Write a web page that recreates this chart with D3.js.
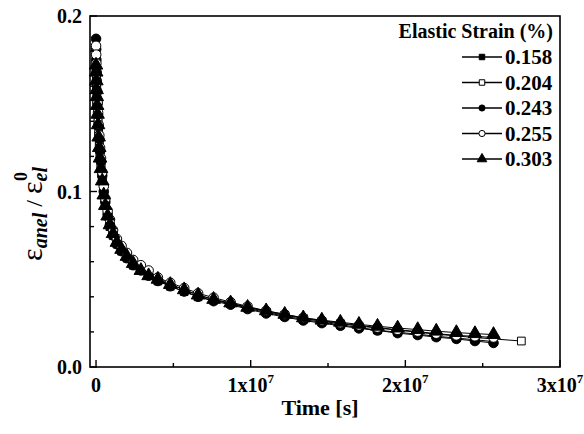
<!DOCTYPE html>
<html><head><meta charset="utf-8">
<script src="https://cdn.jsdelivr.net/npm/d3@7"></script>
<style>body{margin:0;background:#fff}svg{display:block}text{font-family:"Liberation Serif","Times New Roman",serif;font-weight:bold;fill:#000}</style>
</head><body>
<script>
const times = [0,1e4,2e4,3.5e4,5e4,7e4,1e5,1.3e5,1.7e5,2.1e5,2.6e5,3.2e5,4e5,5e5,6e5,7.5e5,9e5,1.1e6,1.35e6,1.65e6,2e6,2.4e6,2.9e6,3.4e6,4e6,4.8e6,5.7e6,6.6e6,7.6e6,8.7e6,9.8e6,1.1e7,1.22e7,1.34e7,1.46e7,1.58e7,1.7e7,1.82e7,1.95e7,2.08e7,2.2e7,2.33e7,2.45e7,2.57e7];
const times204 = times.concat([2.75e7]);
const s158 = [0.176,0.171,0.166,0.160,0.156,0.150,0.145,0.139,0.132,0.126,0.120,0.114,0.106,0.098,0.092,0.086,0.080,0.075,0.070,0.066,0.062,0.058,0.055,0.052,0.049,0.046,0.043,0.040,0.038,0.036,0.0335,0.031,0.029,0.027,0.0255,0.024,0.0225,0.021,0.0198,0.0187,0.0175,0.0165,0.0155,0.0145];
const s204 = [0.178,0.173,0.168,0.162,0.158,0.152,0.147,0.141,0.134,0.128,0.121,0.115,0.107,0.099,0.093,0.087,0.081,0.076,0.071,0.067,0.063,0.059,0.056,0.053,0.050,0.047,0.044,0.041,0.0385,0.0362,0.034,0.0315,0.0295,0.0277,0.026,0.0247,0.0233,0.0222,0.021,0.0198,0.0187,0.0177,0.0168,0.016,0.0148];
const s243 = [0.187,0.181,0.175,0.168,0.163,0.157,0.150,0.144,0.137,0.130,0.123,0.117,0.109,0.100,0.094,0.087,0.081,0.075,0.070,0.066,0.062,0.058,0.055,0.052,0.049,0.046,0.043,0.040,0.0375,0.0355,0.033,0.0305,0.0285,0.0265,0.025,0.0235,0.022,0.0208,0.0193,0.0182,0.017,0.016,0.0148,0.0137];
const s255 = [0.183,0.178,0.173,0.167,0.162,0.157,0.151,0.145,0.138,0.132,0.125,0.119,0.111,0.103,0.096,0.089,0.084,0.078,0.073,0.069,0.065,0.061,0.058,0.055,0.051,0.048,0.045,0.042,0.0395,0.037,0.0345,0.032,0.030,0.028,0.0265,0.025,0.0237,0.0225,0.0212,0.0202,0.019,0.018,0.0175,0.0168];
const s303 = [0.172,0.168,0.163,0.158,0.154,0.149,0.144,0.138,0.131,0.125,0.119,0.113,0.106,0.098,0.092,0.086,0.081,0.076,0.071,0.067,0.063,0.059,0.055,0.052,0.050,0.047,0.044,0.041,0.0385,0.0365,0.034,0.032,0.030,0.028,0.0267,0.0255,0.0243,0.0232,0.0222,0.0213,0.0204,0.0196,0.019,0.0185];
const seriesNames = ["0.158","0.204","0.243","0.255","0.303"];
const seriesShapes = ["square","square","circle","circle","triangle"];
const seriesFilled = [true,false,true,false,true];
const seriesData = [[times,s158],[times204,s204],[times,s243],[times,s255],[times,s303]];
const xTickMajor = [0,1e7,2e7,3e7];
const xTickLabels = ["0","1x10","2x10","3x10"];
const xTickMinor = [0.5e7,1.5e7,2.5e7];
const yTickMajor = [0,0.1,0.2];
const yTickLabels = ["0.0","0.1","0.2"];
const yTickMinor = [0.02,0.04,0.06,0.08,0.12,0.14,0.16,0.18];
const legendTitle = "Elastic Strain (%)";

const W=584,H=434;
const L=90,R=560,T=16,B=367;
const svg=d3.select("body").append("svg").attr("width",W).attr("height",H);
const x=d3.scaleLinear().domain([-0.039e7,3e7]).range([L,R]);
const y=d3.scaleLinear().domain([0,0.2]).range([B,T]);

const symType={square:d3.symbolSquare,circle:d3.symbolCircle,triangle:d3.symbolTriangle};
const symSize={square:60,circle:72,triangle:80};

const plot=svg.append("g");
const line=d3.line().x(d=>x(d[0])).y(d=>y(d[1]));
seriesData.forEach((sd,i)=>{
  const pts=sd[0].map((t,j)=>[t,sd[1][j]]);
  plot.append("path").datum(pts).attr("d",line).attr("fill","none").attr("stroke","#000").attr("stroke-width",1);
});
seriesData.forEach((sd,i)=>{
  const pts=sd[0].map((t,j)=>[t,sd[1][j]]);
  const sh=seriesShapes[i];
  plot.selectAll(null).data(pts).enter().append("path")
    .attr("transform",d=>`translate(${x(d[0])},${y(d[1])})`)
    .attr("d",d3.symbol().type(symType[sh]).size(symSize[sh]))
    .attr("fill",seriesFilled[i]?"#000":"#fff").attr("stroke","#000").attr("stroke-width",1);
});

// frame
svg.append("rect").attr("x",L).attr("y",T).attr("width",R-L).attr("height",B-T).attr("fill","none").attr("stroke","#000").attr("stroke-width",1.6);

// x ticks
const xa=svg.append("g");
xTickMajor.forEach(v=>xa.append("line").attr("x1",x(v)).attr("x2",x(v)).attr("y1",B).attr("y2",B-7).attr("stroke","#000").attr("stroke-width",1.4));
xTickMinor.forEach(v=>xa.append("line").attr("x1",x(v)).attr("x2",x(v)).attr("y1",B).attr("y2",B-4).attr("stroke","#000").attr("stroke-width",1.4));
xTickMajor.forEach((v,i)=>{
  const t=xa.append("text").attr("x",x(v)).attr("y",392).attr("text-anchor","middle").attr("font-size",20);
  t.append("tspan").text(xTickLabels[i]);
  if(i>0) t.append("tspan").attr("font-size",13).attr("dy",-9).text("7");
});
// y ticks
const ya=svg.append("g");
yTickMajor.forEach(v=>ya.append("line").attr("x1",L).attr("x2",L+7).attr("y1",y(v)).attr("y2",y(v)).attr("stroke","#000").attr("stroke-width",1.4));
yTickMinor.forEach(v=>ya.append("line").attr("x1",L).attr("x2",L+4).attr("y1",y(v)).attr("y2",y(v)).attr("stroke","#000").attr("stroke-width",1.4));
yTickMajor.forEach((v,i)=>ya.append("text").attr("x",82).attr("y",y(v)+7).attr("text-anchor","end").attr("font-size",20).text(yTickLabels[i]));

// axis titles
svg.append("text").attr("x",320).attr("y",415).attr("text-anchor","middle").attr("font-size",22).text("Time [s]");
const yt=svg.append("text").attr("transform","translate(42,214) rotate(-90)").attr("text-anchor","middle").attr("font-size",30);
yt.append("tspan").attr("font-weight","normal").text("ε");
yt.append("tspan").attr("font-size",20).attr("font-style","italic").attr("dy",5).text("anel");
yt.append("tspan").attr("font-size",24).attr("font-weight","normal").attr("dy",-5).text(" / ");
yt.append("tspan").attr("font-weight","normal").text("ε");
yt.append("tspan").attr("font-size",20).attr("font-style","italic").attr("dy",5).text("el");
yt.append("tspan").attr("font-size",18).attr("dx",-14).attr("dy",-20).text("0");

// legend
const lg=svg.append("g");
lg.append("text").attr("x",553).attr("y",38).attr("text-anchor","end").attr("font-size",20).text(legendTitle);
seriesNames.forEach((n,i)=>{
  const cy=57+i*25.5;
  lg.append("line").attr("x1",462).attr("x2",502).attr("y1",cy).attr("y2",cy).attr("stroke","#000").attr("stroke-width",1.6);
  const sh=seriesShapes[i];
  lg.append("path").attr("transform",`translate(482,${cy})`)
    .attr("d",d3.symbol().type(symType[sh]).size(sh==="triangle"?40:30))
    .attr("fill",seriesFilled[i]?"#000":"#fff").attr("stroke","#000").attr("stroke-width",1);
  lg.append("text").attr("x",505).attr("y",cy+7).attr("font-size",21).text(n);
});
</script>
</body></html>
